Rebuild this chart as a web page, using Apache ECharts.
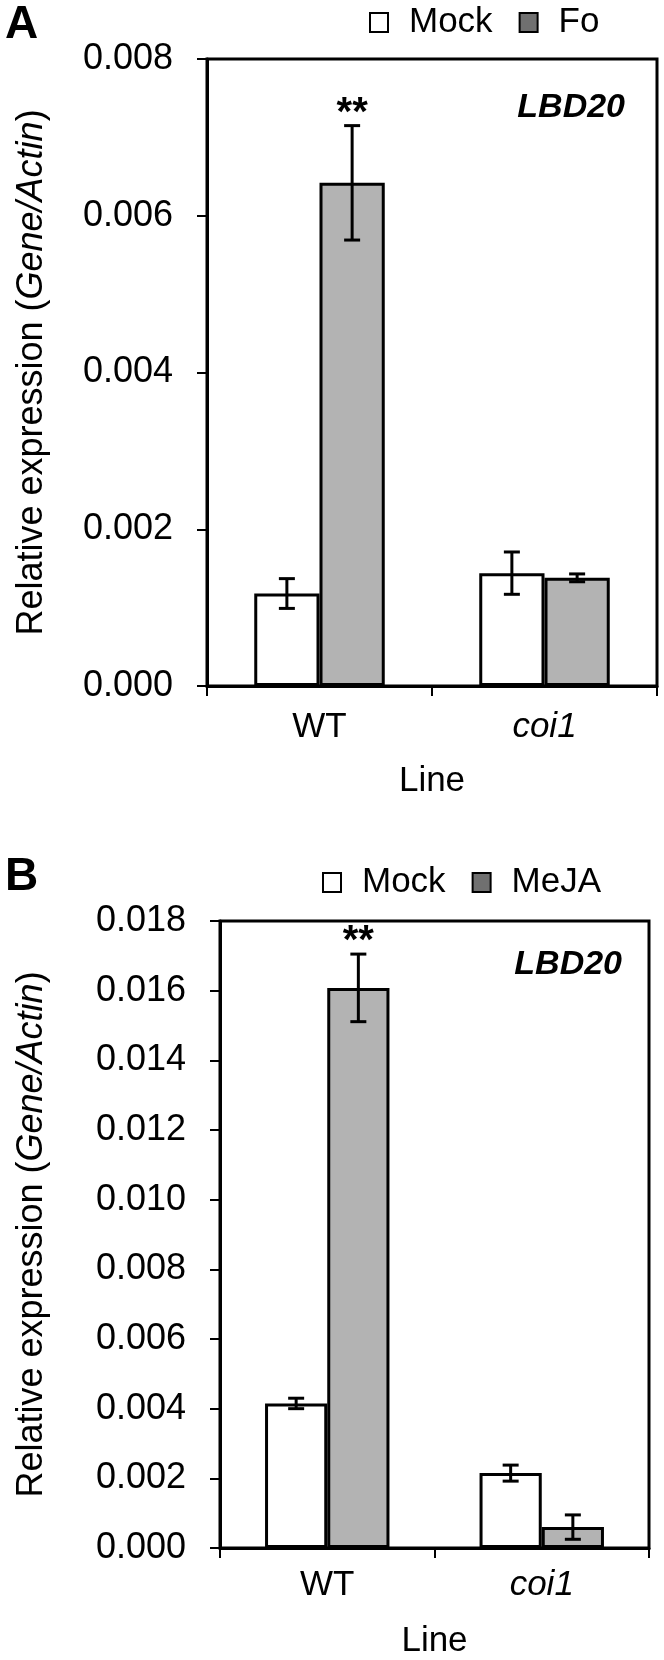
<!DOCTYPE html>
<html>
<head>
<meta charset="utf-8">
<script src="https://cdn.jsdelivr.net/npm/echarts@6/dist/echarts.min.js"></script>
<style>
  html, body { margin: 0; padding: 0; background: #fff; }
  #chart { width: 664px; height: 1660px; }
</style>
</head>
<body>
<div id="chart"></div>
<script>
// ---- data ----
const categories = ['WT', 'coi1'];
const italicCategories = ['coi1'];

const seriesNamesA = ['Mock', 'Fo'];
const mockA = [0.00118, 0.00144];
const mockErrA = [0.00019, 0.00027];
const foA = [0.00642, 0.00138];
const foErrA = [0.00073, 0.00005];
const sigA = ['**', ''];

const seriesNamesB = ['Mock', 'MeJA'];
const mockB = [0.00415, 0.00215];
const mockErrB = [0.00015, 0.00023];
const mejaB = [0.01608, 0.0006];
const mejaErrB = [0.00097, 0.00035];
const sigB = ['**', ''];

const yMaxA = 0.008, yStepA = 0.002;
const yMaxB = 0.018, yStepB = 0.002;
const geneLabel = 'LBD20';
const yName = 'Relative expression ({i|Gene/Actin})';
const xName = 'Line';

// ---- style ----
const FONT = "'Liberation Sans', Arial, sans-serif";
const GAP = 0.42;
const BAR_GREY = '#b3b3b3';
const LEGEND_GREY = '#707070';

function catFormatter(v) {
  return italicCategories.indexOf(v) >= 0 ? '{i|' + v + '}' : v;
}

function makeErr(values, errs, sigs, group, gi) {
  return {
    type: 'custom',
    xAxisIndex: gi, yAxisIndex: gi,
    z: 10,
    silent: true,
    data: values.map((v, i) => [i, v, errs[i]]),
    renderItem: function (params, api) {
      const i = api.value(0), v = api.value(1), e = api.value(2);
      const band = api.size([1, 0])[0];
      const bw = band * (1 - GAP) / 2;
      const c = api.coord([i, v]);
      const x = c[0] + (group === 0 ? -bw / 2 : bw / 2);
      const yT = api.coord([i, v + e])[1];
      const yB = api.coord([i, v - e])[1];
      const cw = 8;
      const ls = { stroke: '#000', lineWidth: 3 };
      const ch = [
        { type: 'line', shape: { x1: x, y1: yT, x2: x, y2: yB }, style: ls },
        { type: 'line', shape: { x1: x - cw, y1: yT, x2: x + cw, y2: yT }, style: ls },
        { type: 'line', shape: { x1: x - cw, y1: yB, x2: x + cw, y2: yB }, style: ls }
      ];
      const s = sigs[params.dataIndex];
      if (s) {
        ch.push({ type: 'text', style: { text: s, x: x, y: yT - 12, align: 'center', verticalAlign: 'middle',
          fontSize: 40, fontWeight: 'bold', fontFamily: FONT, fill: '#000' } });
      }
      return { type: 'group', children: ch };
    }
  };
}

function barSeries(name, values, color, gi) {
  return {
    type: 'bar', name: name, xAxisIndex: gi, yAxisIndex: gi,
    data: values, barGap: '0%', barCategoryGap: (GAP * 100) + '%',
    itemStyle: { color: color, borderColor: '#000', borderWidth: 3 },
    silent: true
  };
}

function yAxis(gi, max, step, nameGap) {
  return {
    type: 'value', gridIndex: gi, min: 0, max: max, interval: step,
    axisLine: { show: true, lineStyle: { color: '#000', width: 3 } },
    axisTick: { show: true, length: 10, lineStyle: { color: '#000', width: 2 } },
    splitLine: { show: false },
    axisLabel: { color: '#000', fontSize: 36, fontFamily: FONT, margin: 34,
      formatter: v => v.toFixed(3) },
    name: yName, nameLocation: 'middle', nameRotate: 90, nameGap: nameGap,
    nameTextStyle: { color: '#000', fontSize: 36, fontFamily: FONT,
      rich: { i: { fontStyle: 'italic', fontSize: 36, fontFamily: FONT, color: '#000' } } }
  };
}

function xAxis(gi, margin, nameGap) {
  return {
    type: 'category', gridIndex: gi, data: categories,
    axisLine: { show: true, lineStyle: { color: '#000', width: 3 } },
    axisTick: { show: true, length: 10, lineStyle: { color: '#000', width: 2 } },
    axisLabel: { color: '#000', fontSize: 35, fontFamily: FONT, margin: margin, formatter: catFormatter,
      rich: { i: { fontStyle: 'italic', fontSize: 35, fontFamily: FONT, color: '#000' } } },
    name: xName, nameLocation: 'middle', nameGap: nameGap,
    nameTextStyle: { color: '#000', fontSize: 35, fontFamily: FONT }
  };
}

function legend(names, left, top) {
  return {
    left: left, top: top, orient: 'horizontal', selectedMode: false, padding: 0,
    icon: 'rect', itemWidth: 18, itemHeight: 19, itemGap: 26,
    textStyle: { color: '#000', fontSize: 35, fontFamily: FONT, padding: [0, 0, 0, 16] },
    data: [
      { name: names[0], itemStyle: { color: '#fff', borderColor: '#000', borderWidth: 2 } },
      { name: names[1], itemStyle: { color: LEGEND_GREY, borderColor: '#000', borderWidth: 2 } }
    ]
  };
}

const chart = echarts.init(document.getElementById('chart'), null, { renderer: 'canvas' });
chart.setOption({
  backgroundColor: '#fff',
  animation: false,
  title: [
    { text: 'A', left: 0, top: -3, textStyle: { fontSize: 46, fontWeight: 'bold', fontFamily: FONT, color: '#000' } },
    { text: 'B', left: 0, top: 849, textStyle: { fontSize: 46, fontWeight: 'bold', fontFamily: FONT, color: '#000' } },
    { text: geneLabel, right: 34, top: 86, textStyle: { fontSize: 34, fontWeight: 'bold', fontStyle: 'italic', fontFamily: FONT, color: '#000' } },
    { text: geneLabel, right: 37, top: 943, textStyle: { fontSize: 34, fontWeight: 'bold', fontStyle: 'italic', fontFamily: FONT, color: '#000' } }
  ],
  legend: [
    legend(seriesNamesA, 369, 5),
    legend(seriesNamesB, 322, 865)
  ],
  grid: [
    { left: 207, right: 7, top: 59, bottom: 974, show: true, borderColor: '#000', borderWidth: 3, containLabel: false },
    { left: 220, right: 15, top: 921, bottom: 111, show: true, borderColor: '#000', borderWidth: 3, containLabel: false }
  ],
  xAxis: [xAxis(0, 24, 78), xAxis(1, 20, 76)],
  yAxis: [yAxis(0, yMaxA, yStepA, 157), yAxis(1, yMaxB, yStepB, 170)],
  series: [
    barSeries(seriesNamesA[0], mockA, '#fff', 0),
    barSeries(seriesNamesA[1], foA, BAR_GREY, 0),
    makeErr(mockA, mockErrA, ['', ''], 0, 0),
    makeErr(foA, foErrA, sigA, 1, 0),
    barSeries(seriesNamesB[0], mockB, '#fff', 1),
    barSeries(seriesNamesB[1], mejaB, BAR_GREY, 1),
    makeErr(mockB, mockErrB, ['', ''], 0, 1),
    makeErr(mejaB, mejaErrB, sigB, 1, 1)
  ]
});
</script>
</body>
</html>
